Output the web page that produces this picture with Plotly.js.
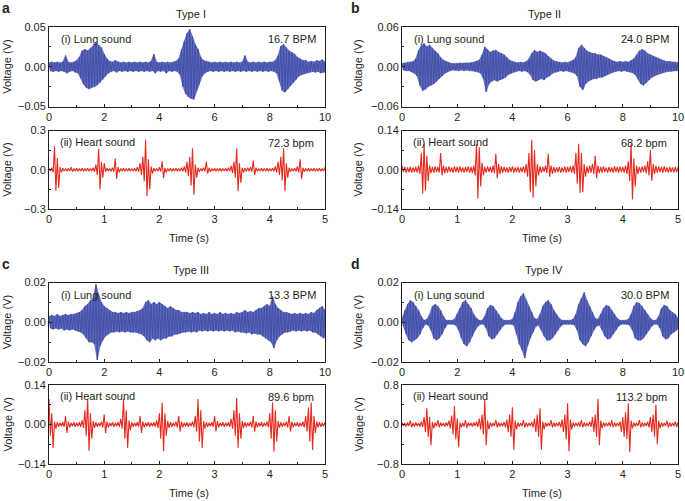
<!DOCTYPE html>
<html><head><meta charset="utf-8">
<script src="https://cdn.plot.ly/plotly-3.0.1.min.js"></script>
<style>html,body{margin:0;padding:0;background:#fff}#chart{width:685px;height:501px}</style>
</head><body><div id="chart"></div>
<script>
// ---- data: envelope values, in millivolts ----
// lung sound: one upper / lower value every 0.1 s from 0 to 10 s
const lungStep = 0.1;
const heartStep = 0.05; // heart sound: one upper / lower value every 0.05 s from 0 to 5 s

const lungA_top = [5,6,5,6,5,6,14,6,5,6, 8,12,20,22,20,23,26,30,27,24, 16,10,7,6,8,6,5,6,5,6, 5,6,5,6,5,6,5,7,16,6, 5,6,5,6,5,6,7,10,22,32, 42,47,38,28,22,12,8,7,6,5, 6,5,6,5,6,5,6,5,6,5, 6,14,6,5,6,5,6,5,6,5, 6,6,8,14,26,28,24,20,18,16, 12,10,8,8,6,7,6,8,7,9, 6];
const lungA_bot = [-5,-6,-5,-6,-5,-6,-8,-6,-5,-7, -8,-14,-22,-26,-28,-26,-25,-23,-20,-16, -12,-8,-6,-5,-7,-5,-6,-5,-6,-5, -6,-5,-6,-5,-6,-5,-6,-5,-8,-5, -6,-5,-8,-5,-6,-5,-6,-10,-25,-34, -38,-40,-41,-30,-22,-12,-8,-6,-5,-6, -5,-6,-5,-6,-5,-6,-5,-6,-5,-6, -5,-6,-5,-6,-5,-6,-5,-6,-5,-6, -5,-6,-8,-18,-30,-32,-28,-24,-20,-16, -12,-10,-9,-8,-7,-6,-7,-6,-8,-7, -6];

const lungB_top = [5,6,6,7,8,12,25,32,35,30, 33,28,24,20,14,10,8,6,5,5, 5,6,5,6,5,6,7,8,10,18, 30,26,22,24,25,22,20,18,14,10, 8,7,6,7,6,8,12,20,25,22, 24,22,20,16,12,9,8,7,6,7, 6,8,10,14,28,33,28,24,22,20, 20,18,18,16,14,12,9,8,7,8, 7,8,7,9,12,18,24,26,24,20, 18,16,14,12,10,9,8,8,7,7, 6];
const lungB_bot = [-5,-6,-6,-8,-10,-14,-28,-36,-34,-30, -28,-26,-22,-18,-14,-10,-8,-6,-5,-5, -6,-5,-6,-5,-6,-6,-7,-8,-10,-18, -38,-26,-22,-20,-22,-20,-18,-16,-12,-10, -8,-7,-6,-7,-6,-8,-12,-20,-22,-20, -18,-20,-16,-14,-10,-8,-7,-6,-7,-6, -7,-8,-10,-14,-30,-35,-26,-22,-20,-18, -18,-16,-16,-14,-12,-10,-8,-7,-6,-7, -6,-7,-8,-9,-12,-18,-26,-28,-24,-20, -16,-14,-12,-10,-9,-8,-7,-7,-6,-6, -6];

const lungC_top = [3,3.5,3,4,3,3.5,4,3.5,4,4, 4.5,5,6,8,9,11,12,19,14,10, 8,7,6,5,5,4.5,5,4.5,5,4.5, 5,5,5.5,6,7,10,11,9,10,9, 10,9,8,7,8,7,6,6,5,5, 5,4.5,5,4.5,5,4,4.5,4,5,4, 4.5,4,5,4,4.5,4,4.5,4,5,4.5, 5,6,5,5.5,5,6,7,7,8,9, 8,13,9,7,6,5,5,4.5,4,4.5, 4,4.5,4,4.5,4,5,4.5,6,7,8, 6];
const lungC_bot = [-3,-3.5,-3,-3.5,-3,-4,-3.5,-4,-3.5,-4, -4.5,-5,-6,-8,-10,-10,-11,-19,-12,-9, -7,-6,-5,-5,-4.5,-5,-4.5,-5,-4.5,-5, -5,-5,-5.5,-6,-7,-9,-10,-8,-9,-8, -9,-8,-8,-7,-7,-6,-6,-5.5,-5,-5, -4.5,-5,-4.5,-5,-4,-4.5,-4,-4.5,-4,-4.5, -4,-4.5,-4,-4.5,-4,-4.5,-4,-5,-4.5,-5, -5,-5.5,-5,-6,-5.5,-6,-6,-7,-8,-9, -10,-13,-9,-7,-6,-5,-5,-4.5,-4,-4.5, -4,-4.5,-4,-4.5,-4,-5,-5,-6,-7,-8, -6];

const lungD_top = [2,6,9,11,10,8,6,3,1,1.5, 4,8,9,8,6,3,1,1,1,1.5, 4,7,10,11,9,7,4,2,1,1, 3,7,8.5,8,6,4,2,1,1,1, 1.5,5,10,13,14.5,11,8,5,2,1.5, 4,8,10,11,9,6,4,2,1,1, 1,1,1.5,4,9,12,15,11,8,5, 2,1.5,4,7,8.5,8,6,4,2,1, 1,1,1.5,4,8,10,9.5,8,6,4, 2,1,1,3,7,8.5,8,6,5,4, 2];
const lungD_bot = [-2,-6,-9,-10,-9,-8,-6,-3,-1,-1.5, -4,-8,-9,-8,-6,-3,-1,-1,-1,-1.5, -4,-8,-11,-12,-10,-7,-4,-2,-1,-1, -3,-7,-8.5,-8,-6,-4,-2,-1,-1,-1, -1.5,-6,-11,-14,-18,-12,-8,-5,-2,-1.5, -4,-7,-9,-9,-8,-6,-4,-2,-1,-1, -1,-1,-1.5,-4,-9,-11,-12,-10,-7,-4, -2,-1.5,-4,-7,-8.5,-8,-6,-4,-2,-1, -1,-1,-1.5,-4,-8,-9,-9,-8,-6,-4, -2,-1,-1,-3,-7,-8.5,-8,-6,-5,-4, -2];

const heartA_top = [10,15,180,90,20,12,10,12,20,10, 12,10,12,10,12,10,15,40,160,60, 50,12,10,15,85,20,10,12,10,12, 10,12,20,50,100,230,80,25,12,10, 20,65,15,10,12,10,12,10,15,25, 60,100,165,40,15,10,15,60,15,10, 12,10,12,10,12,15,30,60,165,50, 15,12,15,20,70,15,10,12,10,12, 10,12,25,60,100,165,50,15,10,12, 25,80,15,10,12,10,12,10,12,10, 20];
const heartA_bot = [-10,-20,-160,-140,-20,-10,-12,-10,-15,-10, -12,-10,-12,-10,-12,-10,-15,-40,-150,-60, -15,-10,-12,-15,-70,-20,-10,-12,-10,-12, -10,-12,-15,-40,-90,-200,-150,-30,-12,-10, -15,-65,-20,-10,-12,-10,-12,-10,-12,-20, -50,-120,-190,-60,-15,-10,-12,-30,-15,-10, -12,-10,-12,-10,-12,-10,-25,-60,-165,-100, -20,-12,-10,-15,-40,-12,-10,-12,-10,-12, -10,-12,-20,-40,-80,-165,-60,-15,-10,-12, -20,-70,-15,-10,-12,-10,-12,-10,-12,-10, -15];

const heartB_top = [15,10,8,10,8,10,15,60,93,50, 15,10,12,10,60,15,10,12,8,12, 10,12,8,10,12,10,15,93,80,25, 10,12,10,15,57,20,12,10,8,10, 12,8,10,8,12,20,60,107,70,20, 12,10,15,57,15,10,8,10,8,12, 10,12,15,60,93,60,20,12,15,20, 50,15,10,12,8,10,8,12,10,12, 10,15,30,93,40,15,10,12,15,30, 70,20,15,12,10,12,8,10,8,10, 8];
const heartB_bot = [-8,-10,-8,-10,-8,-10,-15,-85,-75,-40, -12,-10,-8,-10,-20,-12,-10,-8,-10,-8, -10,-8,-10,-8,-10,-12,-20,-103,-60,-20, -10,-8,-10,-12,-30,-15,-10,-8,-10,-8, -10,-8,-10,-8,-12,-25,-80,-100,-60,-20, -10,-8,-12,-25,-15,-10,-8,-10,-8,-10, -8,-10,-15,-50,-83,-80,-25,-12,-10,-15, -30,-12,-10,-8,-10,-8,-10,-8,-10,-8, -10,-15,-40,-106,-60,-15,-10,-8,-12,-20, -40,-15,-10,-8,-10,-8,-10,-8,-10,-8, -10];

const heartC_top = [90,40,10,8,6,8,30,10,6,8, 6,8,15,50,90,40,12,8,6,10, 35,10,6,8,6,8,20,90,50,15, 8,6,8,30,10,6,8,6,8,15, 40,78,40,12,8,6,10,30,10,6, 8,6,10,30,90,50,12,8,6,8, 30,12,6,8,6,8,20,50,94,40, 12,8,6,10,30,10,6,8,6,10, 40,78,50,12,8,6,10,30,10,6, 8,6,10,30,60,78,30,10,8,6, 8];
const heartC_bot = [-40,-83,-15,-8,-6,-8,-30,-10,-6,-8, -6,-8,-12,-40,-93,-50,-12,-8,-6,-10, -30,-10,-6,-8,-6,-8,-15,-50,-83,-20, -8,-6,-8,-30,-10,-6,-8,-6,-8,-12, -50,-95,-40,-12,-8,-6,-10,-25,-10,-6, -8,-6,-10,-25,-60,-83,-15,-8,-6,-8, -25,-10,-6,-8,-6,-8,-15,-40,-83,-50, -12,-8,-6,-10,-25,-10,-6,-8,-6,-10, -50,-96,-60,-12,-8,-6,-10,-25,-10,-6, -8,-6,-10,-25,-60,-90,-30,-10,-8,-6, -8];

const heartD_top = [40,30,40,80,30,40,30,60,150,330, 150,50,40,90,40,30,40,80,180,370, 120,40,30,90,40,30,40,60,120,200, 500,80,40,30,90,40,30,50,100,200, 350,80,40,30,90,40,30,50,120,200, 330,60,40,30,90,40,30,50,100,200, 430,100,40,30,40,90,40,30,60,150, 200,520,80,40,30,40,90,40,30,60, 150,250,430,80,40,30,90,40,30,60, 150,200,400,80,40,30,80,40,30,60, 40];
const heartD_bot = [-30,-40,-30,-60,-40,-30,-40,-50,-150,-250, -420,-80,-40,-60,-30,-40,-30,-80,-200,-300, -460,-60,-40,-70,-30,-40,-30,-50,-100,-200, -420,-100,-40,-30,-60,-40,-30,-60,-150,-250, -510,-100,-40,-30,-60,-40,-30,-60,-150,-250, -510,-100,-40,-30,-60,-40,-30,-60,-150,-300, -540,-100,-40,-30,-40,-60,-40,-30,-50,-150, -250,-420,-80,-40,-30,-40,-60,-40,-30,-150, -250,-300,-560,-80,-40,-30,-60,-40,-30,-60, -150,-250,-400,-80,-40,-30,-60,-40,-30,-50, -30];

// tick values / labels
const lungXTicks = [0,2,4,6,8,10];
const heartXTicks = [0,1,2,3,4,5];
const yTicksA1 = [-0.05,0,0.05], yLabA1 = ['\u22120.05','0.00','0.05'];
const yTicksA2 = [-0.3,0,0.3],   yLabA2 = ['\u22120.3','0.0','0.3'];
const yTicksB1 = [-0.06,0,0.06], yLabB1 = ['\u22120.06','0.00','0.06'];
const yTicksB2 = [-0.14,0,0.14], yLabB2 = ['\u22120.14','0.00','0.14'];
const yTicksC1 = [-0.02,0,0.02], yLabC1 = ['\u22120.02','0.00','0.02'];
const yTicksC2 = [-0.14,0,0.14], yLabC2 = ['\u22120.14','0.00','0.14'];
const yTicksD1 = [-0.02,0,0.02], yLabD1 = ['\u22120.02','0.00','0.02'];
const yTicksD2 = [-0.8,0,0.8],   yLabD2 = ['\u22120.8','0.0','0.8'];

const rateLung = ['16.7 BPM','24.0 BPM','13.3 BPM','30.0 BPM'];
const rateHeart = ['72.3 bpm','68.2 bpm','89.6 bpm','113.2 bpm'];
const typeTitles = ['Type I','Type II','Type III','Type IV'];
const panelLetters = ['a','b','c','d'];

// ---- drawing ----
const BLUE = '#3f4ca6', BLUE_FILL = 'rgba(70,84,176,0.85)', RED = '#e4291d', INK = '#231f20';
const FONT = 'Liberation Sans, Arial, Helvetica, sans-serif';
const W = 685, H = 501;
const fx = p => p / W, fy = p => 1 - p / H;
const axn = n => (n === 1 ? '' : String(n));

// heart sound: trace alternating between upper and lower value of each sample
function zigTrace(top, bot, step, color, n, width) {
  const xs = [], ys = [];
  const len = Math.min(top.length, bot.length);
  for (let i = 0; i < len; i++) {
    xs.push(i * step); ys.push(top[i] / 1000);
    xs.push(i * step + step / 2); ys.push(bot[i] / 1000);
  }
  return {x: xs, y: ys, type: 'scatter', mode: 'lines', line: {color: color, width: width},
          xaxis: 'x' + axn(n), yaxis: 'y' + axn(n), hoverinfo: 'skip'};
}
// lung sound: dense band filled between upper and lower values, plus the zigzag on top
function bandTraces(top, bot, step, n) {
  const xs = [], ys = [];
  const len = Math.min(top.length, bot.length);
  for (let i = 0; i < len; i++) { xs.push(i * step); ys.push(top[i] / 1000); }
  for (let i = len - 1; i >= 0; i--) { xs.push(i * step + step / 2); ys.push(bot[i] / 1000); }
  const band = {x: xs, y: ys, type: 'scatter', mode: 'lines', fill: 'toself', fillcolor: BLUE_FILL,
    line: {color: BLUE_FILL, width: 0.6}, xaxis: 'x' + axn(n), yaxis: 'y' + axn(n), hoverinfo: 'skip'};
  return [band, zigTrace(top, bot, step, BLUE, n, 0.9)];
}

const data = [].concat(
  bandTraces(lungA_top, lungA_bot, lungStep, 1),
  [zigTrace(heartA_top, heartA_bot, heartStep, RED, 2, 1.1)],
  bandTraces(lungB_top, lungB_bot, lungStep, 3),
  [zigTrace(heartB_top, heartB_bot, heartStep, RED, 4, 1.1)],
  bandTraces(lungC_top, lungC_bot, lungStep, 5),
  [zigTrace(heartC_top, heartC_bot, heartStep, RED, 6, 1.1)],
  bandTraces(lungD_top, lungD_bot, lungStep, 7),
  [zigTrace(heartD_top, heartD_bot, heartStep, RED, 8, 1.1)]
);

const colX = [[49, 325], [402, 678]];
const rowY = [[27, 106.5], [130.5, 209], [282.5, 362], [385, 464]];

function xAxis(col, isLung, anchorN) {
  return {
    domain: [fx(colX[col][0]), fx(colX[col][1])], anchor: 'y' + anchorN,
    range: isLung ? [0, 10] : [0, 5],
    tickmode: 'array', tickvals: isLung ? lungXTicks : heartXTicks,
    ticks: 'inside', ticklen: 3, tickcolor: INK, tickwidth: 1,
    minor: {ticks: 'inside', ticklen: 2, tickcolor: INK, dtick: isLung ? 1 : 0.5, tick0: 0, showgrid: false},
    showline: true, linecolor: INK, linewidth: 1, mirror: true,
    showgrid: false, zeroline: false,
    tickfont: {family: FONT, size: 11, color: INK}
  };
}
function yAxis(row, vals, labs, anchorN) {
  const r = vals[2];
  return {
    domain: [fy(rowY[row][1]), fy(rowY[row][0])], anchor: 'x' + anchorN,
    range: [-r, r], tickmode: 'array', tickvals: vals, ticktext: labs,
    ticks: 'inside', ticklen: 3, tickcolor: INK, tickwidth: 1,
    minor: {ticks: 'inside', ticklen: 2, tickcolor: INK, dtick: r / 2, tick0: 0, showgrid: false},
    showline: true, linecolor: INK, linewidth: 1, mirror: true,
    showgrid: false, zeroline: false,
    tickfont: {family: FONT, size: 11, color: INK}
  };
}

const layout = {
  width: W, height: H, margin: {l: 0, r: 0, t: 0, b: 0},
  paper_bgcolor: '#fff', plot_bgcolor: '#fff', showlegend: false,
  font: {family: FONT, size: 11, color: INK},
  xaxis: xAxis(0, true, ''), yaxis: yAxis(0, yTicksA1, yLabA1, ''),
  xaxis2: xAxis(0, false, 2), yaxis2: yAxis(1, yTicksA2, yLabA2, 2),
  xaxis3: xAxis(1, true, 3), yaxis3: yAxis(0, yTicksB1, yLabB1, 3),
  xaxis4: xAxis(1, false, 4), yaxis4: yAxis(1, yTicksB2, yLabB2, 4),
  xaxis5: xAxis(0, true, 5), yaxis5: yAxis(2, yTicksC1, yLabC1, 5),
  xaxis6: xAxis(0, false, 6), yaxis6: yAxis(3, yTicksC2, yLabC2, 6),
  xaxis7: xAxis(1, true, 7), yaxis7: yAxis(2, yTicksD1, yLabD1, 7),
  xaxis8: xAxis(1, false, 8), yaxis8: yAxis(3, yTicksD2, yLabD2, 8),
  annotations: []
};

function ann(text, x, y, xanchor, opts) {
  const a = Object.assign({text: text, x: fx(x), y: fy(y), xref: 'paper', yref: 'paper',
    xanchor: xanchor, yanchor: 'middle', showarrow: false,
    font: {family: FONT, size: 11, color: INK}}, opts || {});
  layout.annotations.push(a);
}

// panel geometry: [col, lungRow, heartRow]
const panelGeo = [[0, 0, 1], [1, 0, 1], [0, 2, 3], [1, 2, 3]];
const letterPos = [[6, 8], [355, 8], [6, 264], [355, 264]];
panelGeo.forEach((g, k) => {
  const [c, lr, hr] = g;
  const x0 = colX[c][0], x1 = colX[c][1];
  const cx = (x0 + x1) / 2;
  ann('<b>' + panelLetters[k] + '</b>', letterPos[k][0], letterPos[k][1], 'center', {font: {family: FONT, size: 14, color: INK}});
  ann(typeTitles[k], cx + 4, rowY[lr][0] - 13, 'center');
  ann('(i) Lung sound', x0 + 10, rowY[lr][0] + 12, 'left');
  ann(rateLung[k], x1 - 7, rowY[lr][0] + 12, 'right');
  ann('(ii) Heart sound', x0 + 9, rowY[hr][0] + 11, 'left');
  ann(rateHeart[k], x1 - 9, rowY[hr][0] + 12, 'right');
  ann('Time (s)', cx + 2, rowY[hr][1] + 29, 'center');
  const vx = c === 0 ? 7 : 358;
  ann('Voltage (V)', vx, (rowY[lr][0] + rowY[lr][1]) / 2, 'center', {textangle: -90});
  ann('Voltage (V)', vx, (rowY[hr][0] + rowY[hr][1]) / 2, 'center', {textangle: -90});
});

Plotly.newPlot('chart', data, layout, {staticPlot: true, displayModeBar: false});
</script>
</body></html>
